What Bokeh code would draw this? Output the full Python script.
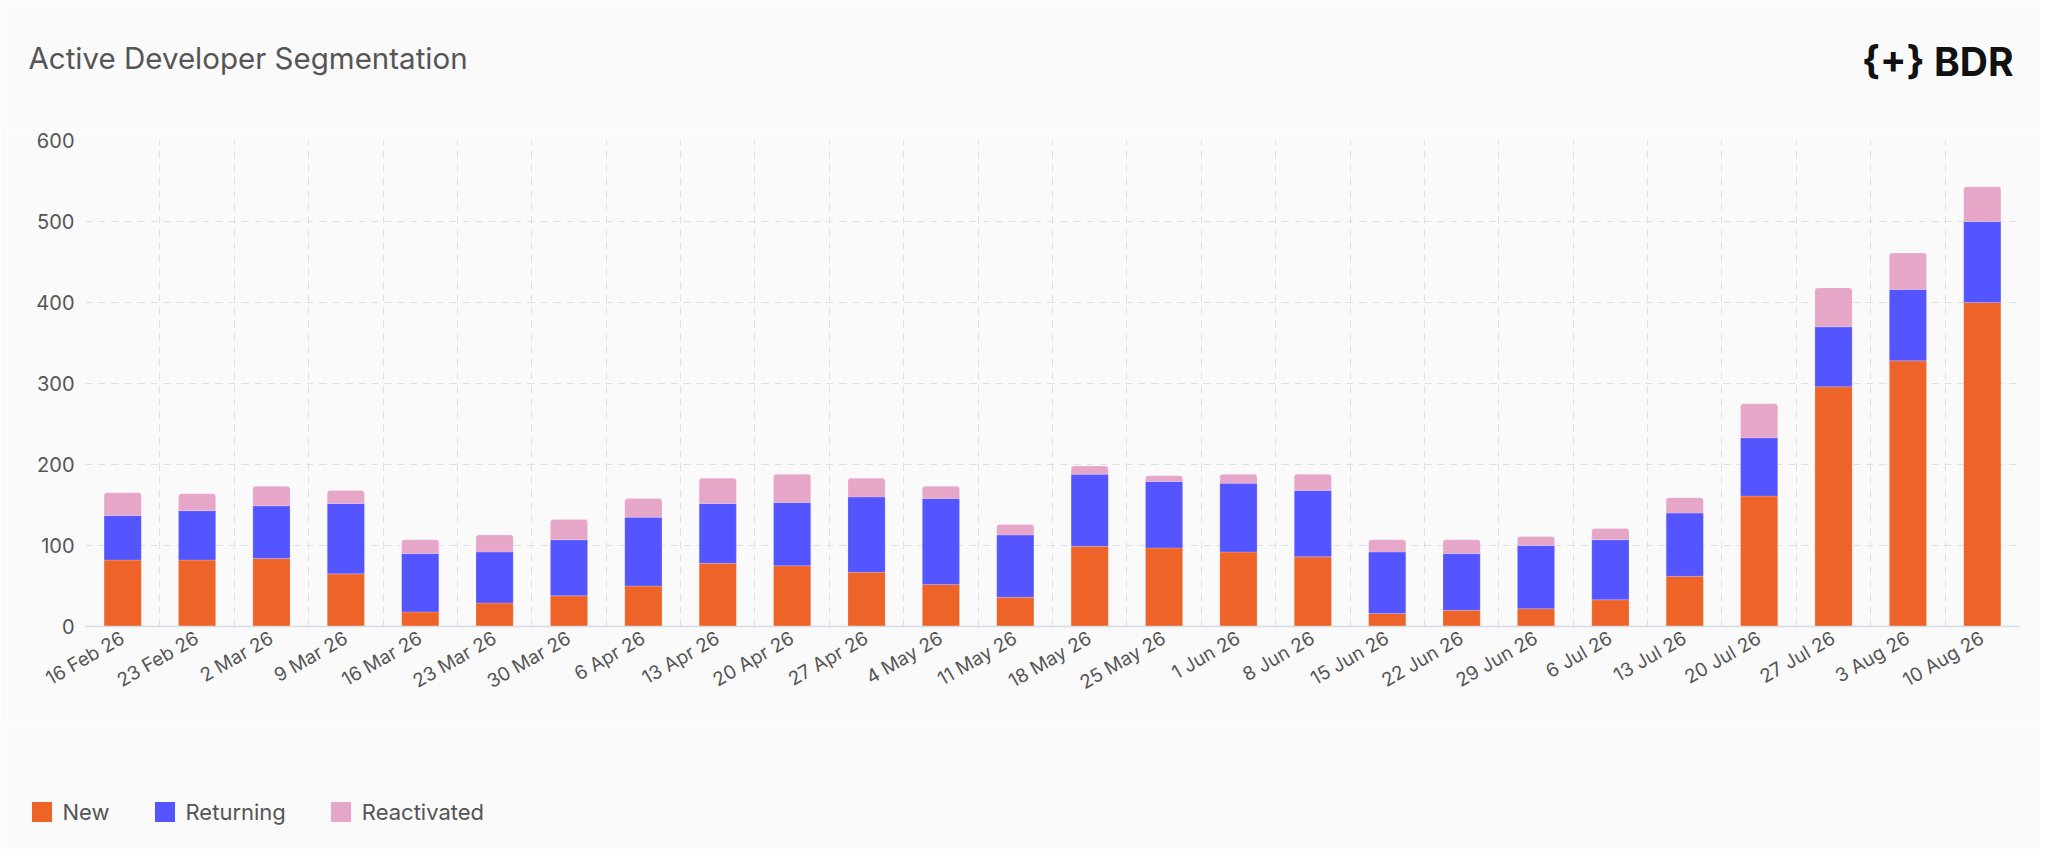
import math
from bokeh.plotting import figure
from bokeh.layouts import column
from bokeh.models import (ColumnDataSource, Range1d, FixedTicker, Label, Legend, LegendItem)
from bokeh.transform import stack
from bokeh.embed import file_html
from bokeh.resources import INLINE

weeks = ["16 Feb 26", "23 Feb 26", "2 Mar 26", "9 Mar 26", "16 Mar 26", "23 Mar 26",
         "30 Mar 26", "6 Apr 26", "13 Apr 26", "20 Apr 26", "27 Apr 26", "4 May 26",
         "11 May 26", "18 May 26", "25 May 26", "1 Jun 26", "8 Jun 26", "15 Jun 26",
         "22 Jun 26", "29 Jun 26", "6 Jul 26", "13 Jul 26", "20 Jul 26", "27 Jul 26",
         "3 Aug 26", "10 Aug 26"]
new = [82, 82, 84, 65, 18, 29, 38, 50, 78, 75, 67, 52, 36, 99, 97, 92, 86,
       16, 20, 22, 33, 62, 161, 296, 328, 400]
returning = [55, 61, 65, 87, 72, 63, 69, 85, 74, 78, 93, 106, 77, 89, 82, 85, 82,
             76, 70, 78, 74, 78, 72, 74, 88, 100]
reactivated = [28, 21, 24, 16, 17, 21, 25, 23, 31, 35, 23, 15, 13, 10, 7, 11, 20,
               15, 17, 11, 14, 19, 42, 48, 45, 43]
series_names = ["New", "Returning", "Reactivated"]
y_ticks = [0, 100, 200, 300, 400, 500, 600]

C_NEW = "#EE6428"
C_RET = "#5555FF"
C_REA = "#E6A6C8"
colors = [C_NEW, C_RET, C_REA]
TXT = "#555555"
FONT = "Inter"
BG = "#fafafa"
W = 2040


def bare(height):
    f = figure(width=W, height=height, output_backend="svg", toolbar_location=None,
               x_range=Range1d(0, W), y_range=Range1d(0, height),
               x_axis_type=None, y_axis_type=None, min_border=0)
    f.frame_align = False
    f.background_fill_color = BG
    f.border_fill_color = BG
    f.outline_line_color = None
    return f


# ---------------- header (title + logo) ----------------
HH = 128
head = bare(HH)
head.add_layout(Label(x=28, y=71, text="Active Developer Segmentation",
                      text_font=FONT, text_font_size="29.5px", text_color=TXT,
                      text_baseline="alphabetic", text_align="left"))
head.add_layout(Label(x=2013, y=67, text="{+} BDR", text_font=FONT,
                      text_font_size="39px", text_font_style="bold",
                      text_color="#111111", text_baseline="alphabetic",
                      text_align="right"))

# ---------------- main chart ----------------
idx = list(range(len(weeks)))
src = ColumnDataSource(dict(x=idx, new=new, ret=returning, react=reactivated))

p = figure(width=W, height=592, output_backend="svg", toolbar_location=None,
           x_range=Range1d(-0.5, len(weeks) - 0.5), y_range=Range1d(0, 600),
           min_border_left=85, min_border_right=21, min_border_top=12,
           min_border_bottom=94)
p.frame_align = False
p.background_fill_color = BG
p.border_fill_color = BG
p.outline_line_color = None

edge = dict(line_color="white", line_width=0.5, line_alpha=0.35)
p.vbar(x="x", width=0.5, bottom=0, top=stack("new"), source=src,
       fill_color=C_NEW, **edge)
p.vbar(x="x", width=0.5, bottom=stack("new"), top=stack("new", "ret"),
       source=src, fill_color=C_RET, **edge)
p.vbar(x="x", width=0.5, bottom=stack("new", "ret"),
       top=stack("new", "ret", "react"), source=src, fill_color=C_REA,
       border_radius=(3, 3, 0, 0), **edge)

p.xaxis.ticker = FixedTicker(ticks=idx)
p.xaxis.major_label_overrides = {i: w for i, w in enumerate(weeks)}
p.xaxis.major_label_orientation = math.pi / 6
p.xaxis.major_label_text_font = FONT
p.xaxis.major_label_text_font_size = "19px"
p.xaxis.major_label_text_color = TXT
p.xaxis.major_label_standoff = 10
p.xaxis.axis_line_color = "#d8dae2"
p.xaxis.axis_line_width = 1.5
p.xaxis.major_tick_line_color = None
p.xaxis.major_tick_out = 0
p.xaxis.minor_tick_line_color = None

p.yaxis.ticker = FixedTicker(ticks=y_ticks)
p.yaxis.major_label_text_font = FONT
p.yaxis.major_label_text_font_size = "20px"
p.yaxis.major_label_text_color = TXT
p.yaxis.major_label_standoff = 11
p.yaxis.axis_line_color = None
p.yaxis.major_tick_line_color = None
p.yaxis.major_tick_out = 0
p.yaxis.minor_tick_line_color = None

p.xgrid.ticker = FixedTicker(ticks=[i - 0.5 for i in range(len(weeks) + 1)])
p.ygrid.ticker = FixedTicker(ticks=y_ticks)
for g in (p.xgrid, p.ygrid):
    g.grid_line_color = "#dedfe7"
    g.grid_line_dash = "7 6"
    g.grid_line_width = 1

# ---------------- footer (legend) ----------------
FH = 129
foot = bare(FH)
items = []
for name, c in zip(series_names, colors):
    # zero-height proxy bar: only its legend swatch is visible
    r = foot.vbar(x=[0], bottom=[0], top=[0], width=1, fill_color=c,
                  line_color=None, border_radius=3)
    items.append(LegendItem(label=name, renderers=[r]))
legend = Legend(items=items, location=(28.5, 24.5), orientation="horizontal",
                glyph_width=25, glyph_height=25, label_height=20,
                label_standoff=9, spacing=42, padding=0, margin=0,
                label_text_font=FONT, label_text_font_size="22px",
                label_text_color=TXT, background_fill_alpha=0,
                border_line_color=None)
foot.add_layout(legend, "center")

layout = column(head, p, foot, spacing=0)
open("out.html", "w").write(file_html(layout, INLINE))
